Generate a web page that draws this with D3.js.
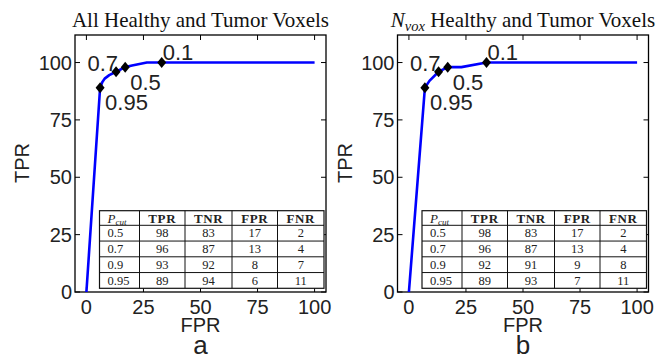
<!DOCTYPE html>
<html>
<head>
<meta charset="utf-8">
<script src="https://cdn.jsdelivr.net/npm/d3@7"></script>
<style>
  body { margin: 0; background: #fff; }
  svg { display: block; }
</style>
</head>
<body>
<div id="vis"></div>
<script>
// ROC curves (FPR %, TPR %)
const fprA = [0, 6, 7, 8, 10, 13, 17, 20, 26.5, 33, 100];
const tprA = [0, 89, 91.5, 93, 94.5, 96, 98, 98.7, 100, 100, 100];
const fprB = [0, 7, 9, 13, 17, 23, 34, 100];
const tprB = [0, 89, 92, 96, 98, 98, 100, 100];

// marked cut-off points
const cutLabels = ["0.95", "0.7", "0.5", "0.1"];
const cutFprA = [6, 13, 17, 33];
const cutTprA = [89, 96, 98, 100];
const cutFprB = [7, 13, 17, 34];
const cutTprB = [89, 96, 98, 100];

// inset tables
const tableHeads = ["TPR", "TNR", "FPR", "FNR"];
const tablePcut = ["0.5", "0.7", "0.9", "0.95"];
const tabTprA = [98, 96, 93, 89];
const tabTnrA = [83, 87, 92, 94];
const tabFprA = [17, 13, 8, 6];
const tabFnrA = [2, 4, 7, 11];
const tabTprB = [98, 96, 92, 89];
const tabTnrB = [83, 87, 91, 93];
const tabFprB = [17, 13, 9, 7];
const tabFnrB = [2, 4, 8, 11];

const xTicks = [0, 25, 50, 75, 100];
const yTicks = [0, 25, 50, 75, 100];
const panelLetters = ["a", "b"];

const width = 670;
const height = 358;
const sans = '"Liberation Sans", Arial, Helvetica, sans-serif';
const serif = '"Liberation Serif", "Times New Roman", serif';
const ink = '#222';

const svg = d3.select('#vis').append('svg')
  .attr('width', width)
  .attr('height', height);

// label offsets from the diamond, in pixels
const labelPlace = {
  "0.95": { dx: 5, dy: 22, anchor: 'start' },
  "0.7": { dx: 2, dy: -1, anchor: 'end' },
  "0.5": { dx: 5, dy: 23, anchor: 'start' },
  "0.1": { dx: 1, dy: -3, anchor: 'start' }
};

function panel(opt) {
  const x = d3.scaleLinear().domain([-5, 105]).range([opt.left, opt.left + 251]);
  const y = d3.scaleLinear().domain([0, 112]).range([292, 35]);
  const [x0, x1] = x.range();
  const [y0, y1] = y.range();
  const g = svg.append('g');

  // ticks, inward on all four sides
  const tl = 5;
  g.selectAll('.xt').data(xTicks).enter().append('path')
    .attr('d', d => `M${x(d)},${y0}v${-tl}M${x(d)},${y1}v${tl}`)
    .attr('stroke', '#000').attr('stroke-width', 1);
  g.selectAll('.yt').data(yTicks).enter().append('path')
    .attr('d', d => `M${x0},${y(d)}h${tl}M${x1},${y(d)}h${-tl}`)
    .attr('stroke', '#000').attr('stroke-width', 1);

  // box
  g.append('rect')
    .attr('x', x0).attr('y', y1)
    .attr('width', x1 - x0).attr('height', y0 - y1)
    .attr('fill', 'none').attr('stroke', '#000').attr('stroke-width', 1.3);

  // tick labels
  g.selectAll('.xl').data(xTicks).enter().append('text')
    .attr('x', d => x(d)).attr('y', 314)
    .attr('text-anchor', 'middle')
    .style('font-family', sans).style('font-size', '20px').attr('fill', ink)
    .text(d => d);
  g.selectAll('.yl').data(yTicks).enter().append('text')
    .attr('x', x0 - 3).attr('y', d => y(d) + 7)
    .attr('text-anchor', 'end')
    .style('font-family', sans).style('font-size', '20px').attr('fill', ink)
    .text(d => d);

  // axis titles
  g.append('text')
    .attr('x', (x0 + x1) / 2).attr('y', 331.5)
    .attr('text-anchor', 'middle')
    .style('font-family', sans).style('font-size', '20px').attr('fill', ink)
    .text('FPR');
  g.append('text')
    .attr('transform', `translate(${x0 - 46},163) rotate(-90)`)
    .attr('text-anchor', 'middle')
    .style('font-family', sans).style('font-size', '20px').attr('fill', ink)
    .text('TPR');
  g.append('text')
    .attr('x', (x0 + x1) / 2).attr('y', 354)
    .attr('text-anchor', 'middle')
    .style('font-family', sans).style('font-size', '26px').attr('fill', ink)
    .text(opt.letter);

  // title
  const t = g.append('text')
    .attr('x', (x0 + x1) / 2).attr('y', 27)
    .attr('text-anchor', 'middle')
    .style('font-family', serif).style('font-size', '21px').attr('fill', '#111');
  if (opt.nvox) {
    t.append('tspan').style('font-style', 'italic').text('N');
    t.append('tspan').style('font-style', 'italic').style('font-size', '14.5px')
      .attr('dy', 4).text('vox');
    t.append('tspan').attr('dy', -4).text(' Healthy and Tumor Voxels');
  } else {
    t.text('All Healthy and Tumor Voxels');
  }

  // ROC curve
  const pts = opt.fpr.map((f, i) => [f, opt.tpr[i]]);
  g.append('path')
    .datum(pts)
    .attr('fill', 'none')
    .attr('stroke', '#0000ff')
    .attr('stroke-width', 2.6)
    .attr('stroke-linejoin', 'round')
    .attr('d', d3.line().x(d => x(d[0])).y(d => y(d[1])));

  // cut-off markers and labels
  const cuts = cutLabels.map((l, i) => ({ label: l, f: opt.cutFpr[i], t: opt.cutTpr[i] }));
  g.selectAll('.mk').data(cuts).enter().append('path')
    .attr('transform', d => `translate(${x(d.f)},${y(d.t)})`)
    .attr('d', 'M0,-5.5L4.5,0L0,5.5L-4.5,0Z')
    .attr('fill', '#000');
  g.selectAll('.ml').data(cuts).enter().append('text')
    .attr('x', d => x(d.f) + labelPlace[d.label].dx)
    .attr('y', d => y(d.t) + labelPlace[d.label].dy)
    .attr('text-anchor', d => labelPlace[d.label].anchor)
    .style('font-family', sans).style('font-size', '22px').attr('fill', ink)
    .text(d => d.label);

  // inset table
  const tx = x0 + 24.5, ty = y1 + 175.7;
  const colW = [40, 45.5, 47, 45.5, 46.5];
  const headH = 14.6, rowH = 15.75;
  const colX = [tx];
  colW.forEach(w => colX.push(colX[colX.length - 1] + w));
  const tw = colX[colX.length - 1] - tx;
  const th = headH + rowH * tablePcut.length;
  const tab = g.append('g');
  tab.append('rect')
    .attr('x', tx).attr('y', ty).attr('width', tw).attr('height', th)
    .attr('fill', '#fff').attr('stroke', '#111').attr('stroke-width', 1.2);
  colX.slice(1, -1).forEach(cx => {
    tab.append('line').attr('x1', cx).attr('x2', cx).attr('y1', ty).attr('y2', ty + th)
      .attr('stroke', '#111').attr('stroke-width', 1);
  });
  tablePcut.forEach((p, i) => {
    const ly = ty + headH + rowH * i;
    tab.append('line').attr('x1', tx).attr('x2', tx + tw).attr('y1', ly).attr('y2', ly)
      .attr('stroke', '#111').attr('stroke-width', 1);
  });

  // header
  const hp = tab.append('text')
    .attr('x', tx + 8).attr('y', ty + headH / 2 + 4.5)
    .style('font-family', serif).style('font-size', '13px').attr('fill', ink);
  hp.append('tspan').style('font-style', 'italic').text('P');
  hp.append('tspan').style('font-style', 'italic').style('font-size', '9px').attr('dy', 2.5).text('cut');
  tableHeads.forEach((h, j) => {
    tab.append('text')
      .attr('x', (colX[j + 1] + colX[j + 2]) / 2).attr('y', ty + headH / 2 + 4.5)
      .attr('text-anchor', 'middle')
      .style('font-family', serif).style('font-size', '13px').style('font-weight', 'bold')
      .style('letter-spacing', '0.6px').attr('fill', ink)
      .text(h);
  });

  // body rows
  const cols = [opt.tabTpr, opt.tabTnr, opt.tabFpr, opt.tabFnr];
  tablePcut.forEach((p, i) => {
    const cy = ty + headH + rowH * i + rowH / 2 + 4.3;
    tab.append('text')
      .attr('x', tx + 8).attr('y', cy)
      .style('font-family', serif).style('font-size', '12.5px').attr('fill', ink)
      .text(p);
    cols.forEach((c, j) => {
      tab.append('text')
        .attr('x', (colX[j + 1] + colX[j + 2]) / 2).attr('y', cy)
        .attr('text-anchor', 'middle')
        .style('font-family', serif).style('font-size', '12.5px').attr('fill', ink)
        .text(c[i]);
    });
  });
}

panel({
  left: 75, letter: panelLetters[0], nvox: false,
  fpr: fprA, tpr: tprA, cutFpr: cutFprA, cutTpr: cutTprA,
  tabTpr: tabTprA, tabTnr: tabTnrA, tabFpr: tabFprA, tabFnr: tabFnrA
});
panel({
  left: 397.5, letter: panelLetters[1], nvox: true,
  fpr: fprB, tpr: tprB, cutFpr: cutFprB, cutTpr: cutTprB,
  tabTpr: tabTprB, tabTnr: tabTnrB, tabFpr: tabFprB, tabFnr: tabFnrB
});
</script>
</body>
</html>
